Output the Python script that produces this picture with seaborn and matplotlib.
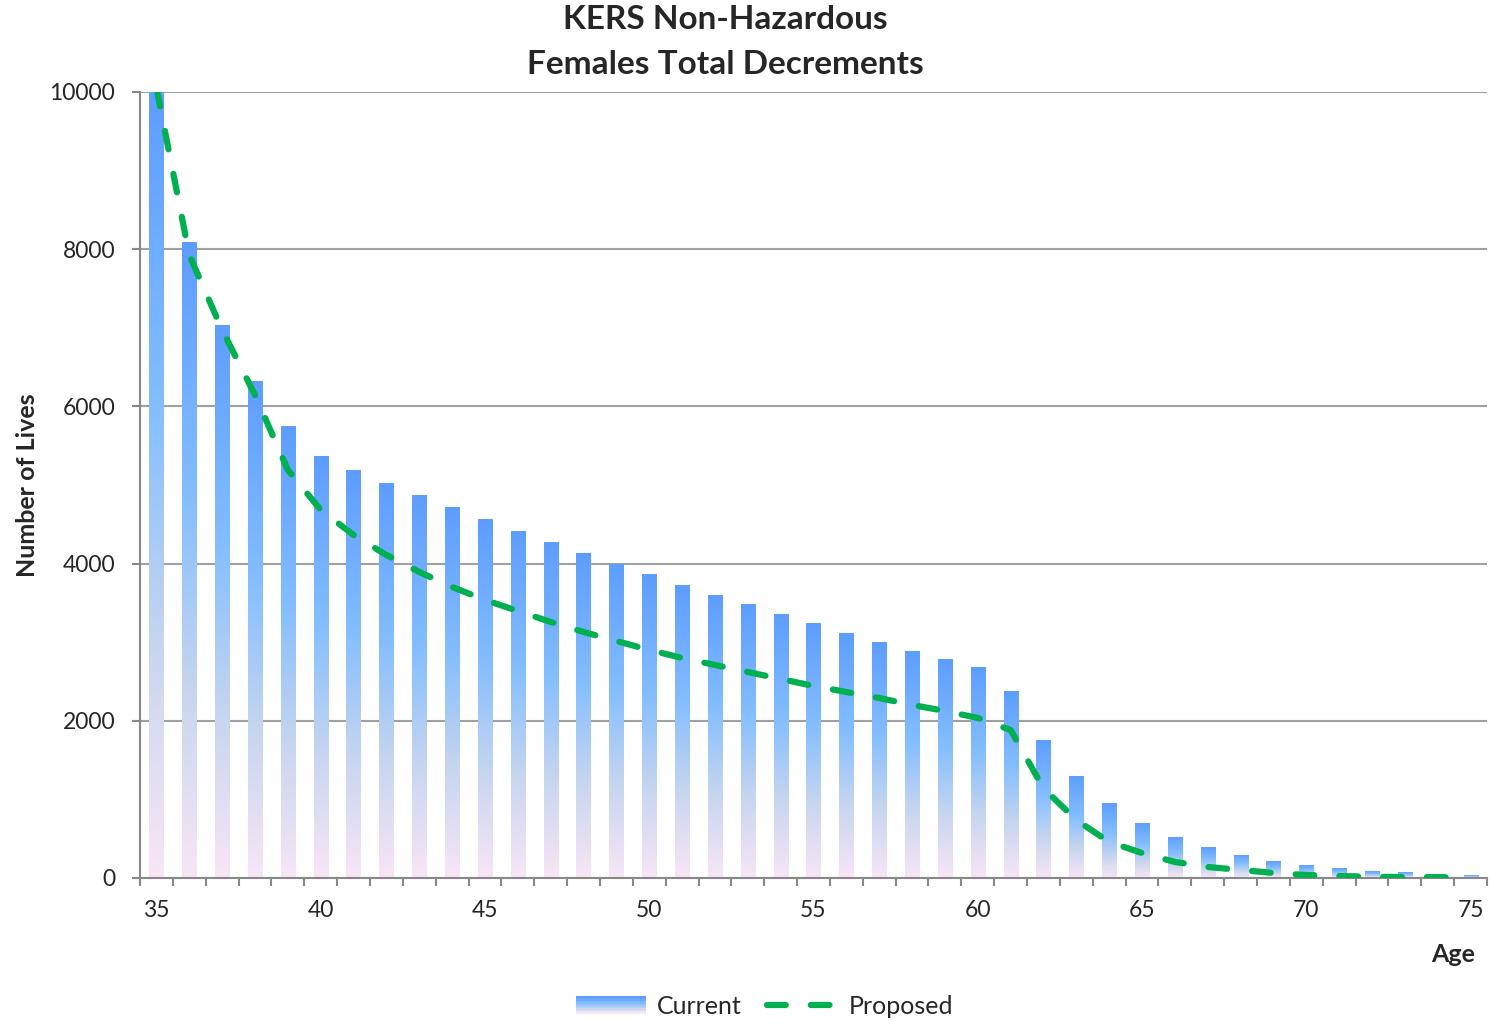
import numpy as np
import pandas as pd
import seaborn as sns
import matplotlib
matplotlib.use("Agg")
import matplotlib.pyplot as plt
from matplotlib.colors import LinearSegmentedColormap
from matplotlib.patches import Rectangle
from matplotlib.legend_handler import HandlerBase
from matplotlib.lines import Line2D

ages = list(range(35, 76))
current = [10000, 8090, 7036, 6323, 5751, 5369, 5191, 5025, 4873, 4720,
           4567, 4415, 4275, 4135, 3995, 3868, 3728, 3601, 3486, 3359,
           3244, 3117, 3003, 2888, 2786, 2684, 2379, 1756, 1298, 954,
           700, 522, 394, 293, 216, 165, 127, 89, 76, 51, 38]
proposed = [10050, 7926, 6972, 6145, 5191, 4682, 4364, 4109, 3893, 3702,
            3537, 3397, 3257, 3130, 3015, 2901, 2799, 2710, 2621, 2532,
            2443, 2366, 2290, 2201, 2125, 2036, 1883, 1140, 738, 458,
            318, 204, 140, 102, 64, 38, 25, 15, 12, 10, 8]
y_ticks = [0, 2000, 4000, 6000, 8000, 10000]
x_labels = [35, 40, 45, 50, 55, 60, 65, 70, 75]

df = pd.DataFrame({"age": ages, "current": current, "proposed": proposed})
df["pos"] = np.arange(len(ages))

sns.set_style("white")
plt.rcParams["font.family"] = ["Lato", "DejaVu Sans"]

grad = LinearSegmentedColormap.from_list(
    "bar_grad",
    [(0.0, "#F8E6F6"), (0.3, "#C6D5EF"), (0.6, "#84BEFF"), (1.0, "#5D9DFF")])
grid_col = "#A0A0A0"
green = "#00B050"

fig = plt.figure(figsize=(14.99, 10.24), dpi=100)
ax = fig.add_axes([0.0934, 0.1426, 0.8986, 0.7676])

sns.barplot(data=df, x="pos", y="current", color="#5D9DFF", width=0.43,
            ax=ax, zorder=2)

# per-bar vertical gradient
gimg = np.linspace(0, 1, 256).reshape(-1, 1)
for p in ax.patches:
    x0, y0 = p.get_x(), p.get_y()
    w, h = p.get_width(), p.get_height()
    im = ax.imshow(gimg, cmap=grad, origin="lower", aspect="auto",
                   extent=(x0, x0 + w, y0, y0 + h), zorder=2.1,
                   interpolation="bilinear")
    im.set_clip_path(p)
    p.set_facecolor("none")
    p.set_edgecolor("none")

sns.lineplot(data=df, x="pos", y="proposed", color=green, lw=4.5, ax=ax,
             zorder=3)
ln = ax.lines[-1]
ln.set_dashes((3, 4))
ln.set_dash_capstyle("round")

ax.set_xlim(-0.5, len(ages) - 0.5)
ax.set_ylim(0, 10000)
ax.set_yticks(y_ticks)
ax.set_yticklabels([str(v) for v in y_ticks], fontsize=16.5)
ax.set_xticks([a - 35 for a in x_labels])
ax.set_xticklabels([str(a) for a in x_labels], fontsize=16.5)
ax.set_xticks(np.arange(-0.5, len(ages)), minor=True)
ax.tick_params(axis="x", which="major", length=0, pad=16)
ax.tick_params(axis="x", which="minor", length=6, width=1.5, color="#888888",
               direction="out", bottom=True)
ax.tick_params(axis="y", length=6, width=1.5, color="#888888",
               direction="out", left=True, pad=12)

ax.yaxis.grid(True, color=grid_col, lw=1.5, zorder=0)
ax.set_axisbelow(True)
for s in ["top", "right"]:
    ax.spines[s].set_visible(False)
for s in ["left", "bottom"]:
    ax.spines[s].set_color("#888888")
    ax.spines[s].set_linewidth(1.5)

ax.set_ylabel("Number of Lives", fontsize=18, fontweight="bold")
ax.yaxis.set_label_coords(-0.075, 0.5)
ax.set_xlabel("Age", fontsize=18, fontweight="bold")
ax.xaxis.set_label_coords(0.975, -0.083)
fig.text(0.484, 0.995, "KERS Non-Hazardous\nFemales Total Decrements",
         fontsize=24, fontweight="bold", ha="center", va="top",
         linespacing=1.65)


class GradientHandler(HandlerBase):
    def create_artists(self, legend, orig_handle, xdescent, ydescent,
                       width, height, fontsize, trans):
        n = 12
        arts = []
        for i in range(n):
            r = Rectangle((-xdescent, -ydescent + height * i / n), width,
                          height / n + 0.3, facecolor=grad(i / (n - 1)),
                          edgecolor="none", transform=trans)
            arts.append(r)
        return arts


cur_handle = Rectangle((0, 0), 1, 1)
prop_handle = Line2D([], [], color=green, lw=4.5, dashes=(3, 4),
                     dash_capstyle="round")
fig.legend([cur_handle, prop_handle], ["Current", "Proposed"],
           handler_map={Rectangle: GradientHandler()},
           loc="lower center", bbox_to_anchor=(0.51, -0.016), ncol=2,
           frameon=False, fontsize=18, handlelength=2.8, columnspacing=1.0,
           handletextpad=0.45)

fig.savefig("out.png", dpi=100)
